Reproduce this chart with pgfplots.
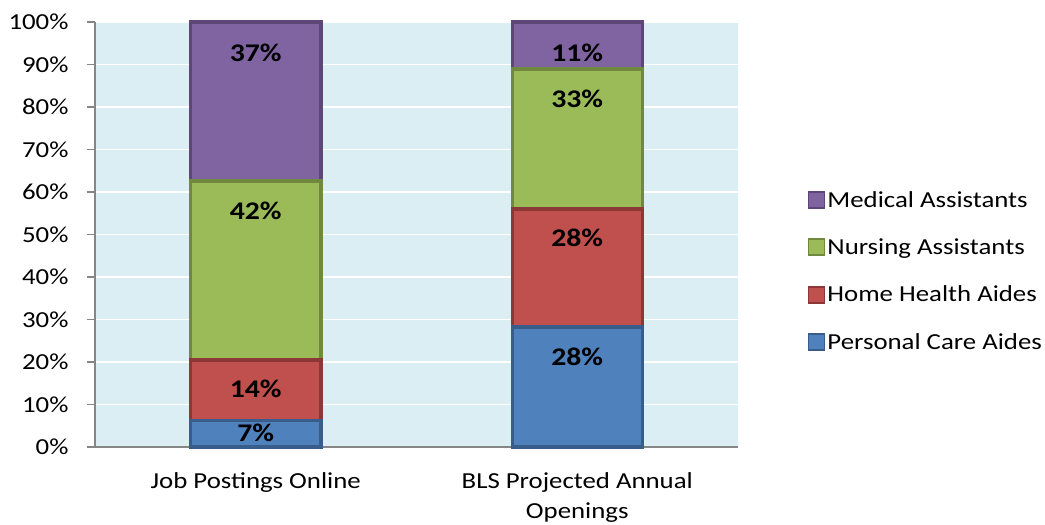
\documentclass[border=0pt]{standalone}
\usepackage{pgfplots}
\pgfplotsset{compat=1.18}
\usepackage{pgfplotstable}
\usepackage{fontspec}
\setmainfont{Carlito}[FakeStretch=1.17]
\definecolor{bgc}{RGB}{219,238,243}
\definecolor{axc}{RGB}{134,134,134}
\definecolor{pcFill}{RGB}{79,129,189}\definecolor{pcLine}{RGB}{56,93,138}
\definecolor{hhFill}{RGB}{192,80,77}\definecolor{hhLine}{RGB}{140,56,54}
\definecolor{naFill}{RGB}{155,187,89}\definecolor{naLine}{RGB}{113,137,63}
\definecolor{maFill}{RGB}{128,100,162}\definecolor{maLine}{RGB}{92,71,118}
% sh = vertical shift of the label from the segment centre (bp, up positive)
\pgfplotstableread{
x y lab sh
0 6.2 7 1
1 28.2 28 30
}\tpc
\pgfplotstableread{
x y lab sh
0 14.3 14 1.4
1 27.8 28 30
}\thh
\pgfplotstableread{
x y lab sh
0 42.1 42 59.5
1 32.9 33 40
}\tna
\pgfplotstableread{
x y lab sh
0 37.4 37 48.5
1 11.1 11 -7.4
}\tma
\begin{document}
\begin{tikzpicture}
\begin{axis}[
  scale only axis, width=643bp, height=425bp,
  ybar stacked, bar width=130bp,
  xmin=-0.5, xmax=1.5, ymin=0, ymax=100,
  font=\fontsize{23}{31}\selectfont,
  /pgf/number format/assume math mode=true,
  axis background/.style={fill=bgc},
  axis x line*=bottom, axis y line*=left,
  axis line style={axc, line width=1.2bp},
  xtick={0,1},
  xticklabels={Job Postings Online,{BLS Projected Annual\\Openings}},
  x tick label style={align=center, yshift=-14bp, font=\fontsize{23}{30}\selectfont},
  major x tick style={draw=none},
  extra x ticks={-0.5,0.5,1.5}, extra x tick labels={},
  extra x tick style={major tick length=8bp, tick style={axc, line width=1.2bp}, grid=none},
  ytick={0,10,...,100},
  yticklabel={\pgfmathprintnumber{\tick}\%},
  tick align=outside,
  major tick length=8bp,
  tick style={axc, line width=1.2bp},
  ymajorgrids, major grid style={white, line width=1.6bp},
  y tick label style={xshift=-15bp, font=\fontsize{23}{31}\selectfont},
  nodes near coords={\textbf{\pgfplotspointmeta\%}},
  point meta=explicit symbolic,
  visualization depends on={\thisrow{sh} \as \mysh},
  every node near coord/.append style={anchor=center, yshift=\mysh*1bp, text=black,
    font=\fontsize{25.5}{30}\selectfont\bfseries},
  reverse legend,
  legend style={draw=none, fill=none, at={(rel axis cs:1.108,0.414)}, anchor=west,
    row sep=26bp, font=\fontsize{23}{31}\selectfont, inner sep=0pt},
  legend cell align=left,
  legend image code/.code={\draw[#1, line width=1.8bp] (-6bp,-8bp) rectangle (10bp,8bp);},
  clip=false,
]
\addplot[fill=pcFill, draw=pcLine, line width=3.5bp] table[x=x,y=y,meta=lab] {\tpc};
\addlegendentry{Personal Care Aides}
\addplot[fill=hhFill, draw=hhLine, line width=3.5bp] table[x=x,y=y,meta=lab] {\thh};
\addlegendentry{Home Health Aides}
\addplot[fill=naFill, draw=naLine, line width=3.5bp] table[x=x,y=y,meta=lab] {\tna};
\addlegendentry{Nursing Assistants}
\addplot[fill=maFill, draw=maLine, line width=3.5bp] table[x=x,y=y,meta=lab] {\tma};
\addlegendentry{Medical Assistants}
\end{axis}
\pgfresetboundingbox
\path[use as bounding box] (current axis.south west) ++(-95bp,-78bp) rectangle ++(1045bp,525bp);
\end{tikzpicture}
\end{document}
